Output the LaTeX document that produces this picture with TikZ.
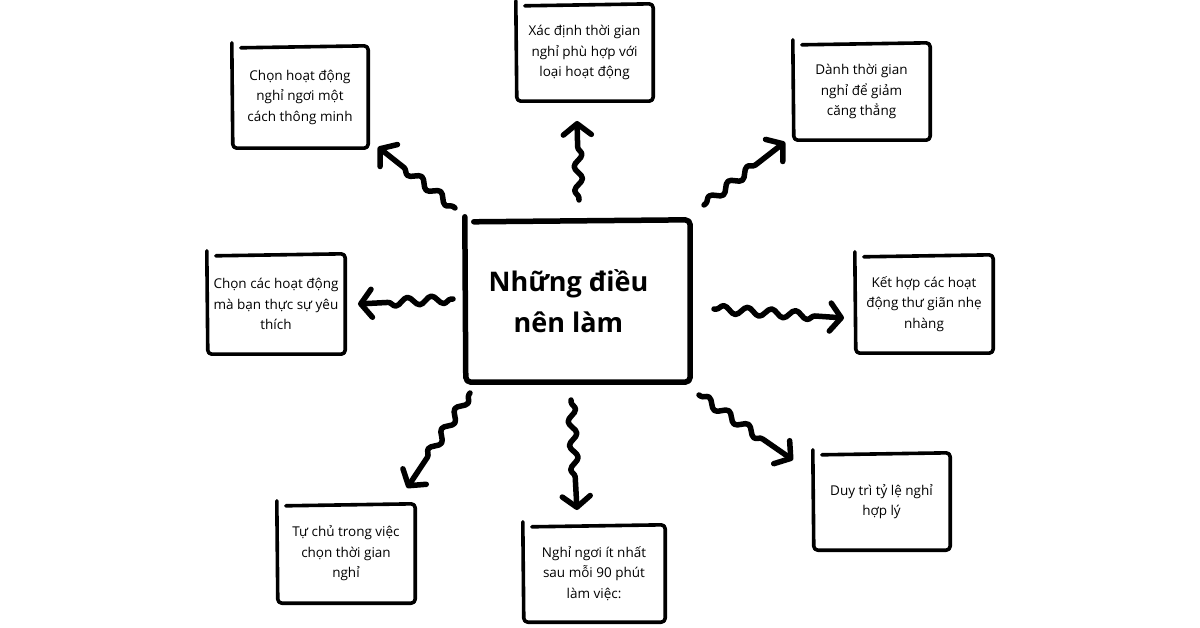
\documentclass[tikz,border=0pt]{standalone}
\usepackage{fontspec}
\setmainfont{Open Sans}
\usetikzlibrary{arrows.meta,decorations.pathmorphing,calc}
\tikzset{
  box/.style={align=center, inner sep=0pt, font=\fontsize{13.5}{20.5}\selectfont},
  frame/.style={line width=3.6pt, line cap=round, line join=round, rounded corners=4pt},
  bigframe/.style={line width=5.5pt, line cap=round, line join=round, rounded corners=5pt},
  conn/.style={line width=5.5pt, line cap=round, line join=round,
    -{Straight Barb[length=11pt,width=28pt,round]},
    decorate, decoration={snake, amplitude=4pt, segment length=24pt, pre length=2pt, post length=26pt}},
}
\newcommand{\sketchframe}[2]{%
  \draw[#2] ($(#1.north west)+(0,-3)$) -- ($(#1.south west)+(1,0)$) -- (#1.south east)
    -- (#1.north east) -- ($(#1.north west)+(9,2)$);}
\begin{document}
\begin{tikzpicture}[x=1pt,y=-1pt]
\useasboundingbox[fill=white] (0,0) rectangle (1200,628);
% centre
\node[align=center, inner sep=0pt, minimum width=225pt, minimum height=162pt,
  font=\fontsize{27}{41}\selectfont\bfseries] (c) at (577.5,301)
  {Những điều\hspace*{18pt}\\nên làm\hspace*{18pt}};
\sketchframe{c}{bigframe}
% boxes
\node[box, minimum width=136pt, minimum height=102pt] (tl) at (300,97) {Chọn hoạt động\\nghỉ ngơi một\\cách thông minh};
\node[box, minimum width=137pt, minimum height=97pt] (tc) at (584.5,52.5) {Xác định thời gian\\nghỉ phù hợp với\\loại hoạt động};
\node[box, minimum width=137pt, minimum height=97pt] (tr) at (861.5,91.5) {Dành thời gian\\nghỉ để giảm\\căng thẳng};
\node[box, minimum width=138pt, minimum height=100pt] (l) at (276,304) {Chọn các hoạt động\\mà bạn thực sự yêu\\thích};
\node[box, minimum width=138pt, minimum height=98pt] (r) at (924,304) {Kết hợp các hoạt\\động thư giãn nhẹ\\nhàng};
\node[box, minimum width=138pt, minimum height=99pt] (bl) at (346,553.5) {Tự chủ trong việc\\chọn thời gian\\nghỉ};
\node[box, minimum width=142pt, minimum height=97pt] (bc) at (594,573.5) {Nghỉ ngơi ít nhất\\sau mỗi 90 phút\\làm việc:};
\node[box, minimum width=137pt, minimum height=97pt] (br) at (881.5,501.5) {Duy trì tỷ lệ nghỉ\\hợp lý};
\foreach \n in {tl,tc,tr,l,r,bl,bc,br} {\sketchframe{\n}{frame}}
% connector ends
\coordinate (s1) at (455,208); \coordinate (e1) at (378,147);
\coordinate (s2) at (579,200); \coordinate (e2) at (577,121);
\coordinate (s3) at (704,205); \coordinate (e3) at (785,142);
\coordinate (s4) at (453,299); \coordinate (e4) at (358,304);
\coordinate (s5) at (714,309); \coordinate (e5) at (844,318);
\coordinate (s6) at (470,393); \coordinate (e6) at (407,488);
\coordinate (s7) at (571,400); \coordinate (e7) at (577,510);
\coordinate (s8) at (699,395); \coordinate (e8) at (793,460);
\foreach \i in {1,...,8} {\draw[conn] (s\i) -- (e\i);}
\end{tikzpicture}
\end{document}
